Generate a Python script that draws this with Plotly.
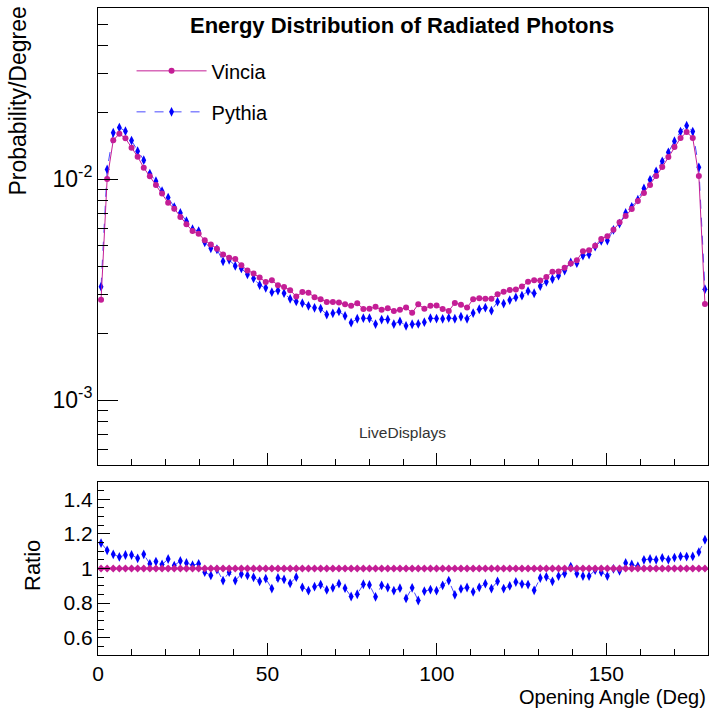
import plotly.graph_objects as go

# Bin centres: 100 bins of 1.8 deg over 0..180
angle_bins = [0.9 + 1.8 * i for i in range(100)]

vincia = [
    0.00284, 0.01000, 0.01497, 0.01603, 0.01528, 0.01385, 0.01262, 0.01125, 0.01029, 0.00940,
    0.00861, 0.00781, 0.00734, 0.00673, 0.00624, 0.00582, 0.00566, 0.00528, 0.00506, 0.00484,
    0.00456, 0.00440, 0.00435, 0.00407, 0.00386, 0.00374, 0.00358, 0.00342, 0.00348, 0.00331,
    0.00325, 0.00314, 0.00294, 0.00308, 0.00306, 0.00292, 0.00286, 0.00278, 0.00278, 0.00276,
    0.00271, 0.00267, 0.00274, 0.00258, 0.00259, 0.00264, 0.00256, 0.00260, 0.00253, 0.00256,
    0.00262, 0.00248, 0.00271, 0.00259, 0.00267, 0.00268, 0.00258, 0.00253, 0.00275, 0.00270,
    0.00262, 0.00286, 0.00289, 0.00287, 0.00287, 0.00301, 0.00309, 0.00315, 0.00316, 0.00326,
    0.00343, 0.00348, 0.00347, 0.00360, 0.00381, 0.00382, 0.00397, 0.00415, 0.00429, 0.00471,
    0.00476, 0.00499, 0.00536, 0.00551, 0.00590, 0.00637, 0.00680, 0.00732, 0.00796, 0.00864,
    0.00940, 0.01032, 0.01133, 0.01257, 0.01396, 0.01533, 0.01632, 0.01533, 0.01032, 0.00272,
]

ratio_pythia_vincia = [
    1.147, 1.105, 1.082, 1.067, 1.078, 1.078, 1.059, 1.082, 1.027, 1.040,
    1.023, 1.055, 1.017, 1.044, 1.032, 1.019, 1.027, 0.979, 0.960, 0.994,
    0.930, 0.979, 0.930, 0.968, 0.960, 0.949, 0.926, 0.941, 0.884, 0.945,
    0.937, 0.914, 0.950, 0.891, 0.872, 0.895, 0.907, 0.876, 0.888, 0.912,
    0.886, 0.838, 0.851, 0.909, 0.905, 0.836, 0.903, 0.890, 0.872, 0.886,
    0.827, 0.888, 0.815, 0.869, 0.878, 0.872, 0.903, 0.930, 0.848, 0.882,
    0.890, 0.865, 0.891, 0.912, 0.884, 0.926, 0.884, 0.899, 0.922, 0.910,
    0.907, 0.874, 0.945, 0.952, 0.926, 0.956, 0.971, 1.011, 0.970, 0.956,
    0.956, 0.990, 0.979, 0.956, 0.998, 0.987, 1.032, 1.023, 1.013, 1.050,
    1.055, 1.050, 1.061, 1.051, 1.063, 1.070, 1.069, 1.070, 1.095, 1.166,
]

pythia = [v * r for v, r in zip(vincia, ratio_pythia_vincia)]
ratio_vincia = [v / v for v in vincia]

MAG = "#c41e96"
BLUE = "#0000ff"
BLUE_LINE = "#4a4aff"
FONT = "Liberation Sans, Arial, sans-serif"

fig = go.Figure()

# top panel
fig.add_trace(go.Scatter(
    x=angle_bins, y=pythia, name="Pythia", mode="lines+markers",
    line=dict(color=BLUE_LINE, width=1, dash="dash"),
    marker=dict(symbol="diamond-tall", size=7, color=BLUE),
    xaxis="x2", yaxis="y2", legendgroup="p", legendrank=2,
))
fig.add_trace(go.Scatter(
    x=angle_bins, y=vincia, name="Vincia", mode="lines+markers",
    line=dict(color=MAG, width=1),
    marker=dict(symbol="circle", size=6, color=MAG),
    xaxis="x2", yaxis="y2", legendgroup="v", legendrank=1,
))

# ratio panel
fig.add_trace(go.Scatter(
    x=angle_bins, y=ratio_pythia_vincia, mode="lines+markers", showlegend=False,
    line=dict(color=BLUE_LINE, width=1, dash="dash"),
    marker=dict(symbol="diamond-tall", size=7, color=BLUE),
    xaxis="x", yaxis="y",
))
fig.add_trace(go.Scatter(
    x=angle_bins, y=ratio_vincia, mode="lines+markers", showlegend=False,
    line=dict(color=MAG, width=1.5),
    marker=dict(symbol="diamond", size=6, color=MAG),
    xaxis="x", yaxis="y",
))

axis_common = dict(showline=True, linecolor="black", linewidth=1, mirror=True,
                   showgrid=False, zeroline=False, ticks="inside", tickcolor="black")

fig.update_layout(
    width=710, height=713,
    margin=dict(l=98, r=2, t=8, b=58),
    paper_bgcolor="white", plot_bgcolor="white",
    font=dict(family=FONT, color="black", size=21),
    xaxis=dict(**axis_common, range=[0, 180], dtick=50, ticklen=12,
               minor=dict(dtick=10, ticklen=6, ticks="inside", tickcolor="black"),
               anchor="y", tickfont=dict(size=21)),
    yaxis=dict(**axis_common, domain=[0, 0.2674], range=[0.5, 1.5],
               tickvals=[0.6, 0.8, 1.0, 1.2, 1.4], ticktext=["0.6", "0.8", "1", "1.2", "1.4"],
               ticklen=12,
               minor=dict(dtick=0.05, ticklen=6, ticks="inside", tickcolor="black"),
               anchor="x", tickfont=dict(size=21)),
    xaxis2=dict(**axis_common, range=[0, 180], dtick=50, ticklen=12, showticklabels=False,
                minor=dict(dtick=10, ticklen=6, ticks="inside", tickcolor="black"),
                anchor="y2", matches="x"),
    yaxis2=dict(**axis_common, type="log", domain=[0.2937, 1.0], range=[-3.294, -1.226],
                tickvals=[0.001, 0.01], ticktext=["10<sup>-3</sup>", "10<sup>-2</sup>"],
                ticklen=20,
                minor=dict(tickvals=[0.0006, 0.0007, 0.0008, 0.0009, 0.002, 0.003, 0.004,
                                     0.005, 0.006, 0.007, 0.008, 0.009, 0.02, 0.03, 0.04, 0.05],
                           ticklen=10, ticks="inside", tickcolor="black"),
                anchor="x2", tickfont=dict(size=23)),
    legend=dict(x=0.055, y=0.933, xanchor="left", yanchor="top",
                font=dict(size=20, family=FONT), bgcolor="rgba(0,0,0,0)",
                tracegroupgap=12, traceorder="grouped", itemwidth=70),
    showlegend=True,
)

fig.add_annotation(text="<b>Energy Distribution of Radiated Photons</b>", xref="paper", yref="paper",
                   x=(402 - 98) / 610, y=1 - 17 / 647, xanchor="center", yanchor="middle",
                   showarrow=False, font=dict(size=22, family=FONT))
fig.add_annotation(text="LiveDisplays", xref="paper", yref="paper",
                   x=(402 - 98) / 610, y=(655 - 433) / 647, xanchor="center", yanchor="middle",
                   showarrow=False, font=dict(size=15.5, family=FONT, color="#333333"))
fig.add_annotation(text="Probability/Degree", xref="paper", yref="paper",
                   x=(18 - 98) / 610, y=1 + 3 / 647, xanchor="center", yanchor="top",
                   textangle=-90, showarrow=False, font=dict(size=23, family=FONT))
fig.add_annotation(text="Ratio", xref="paper", yref="paper",
                   x=(32 - 98) / 610, y=(655 - 566) / 647, xanchor="center", yanchor="middle",
                   textangle=-90, showarrow=False, font=dict(size=22, family=FONT))
fig.add_annotation(text="Opening Angle (Deg)", xref="paper", yref="paper",
                   x=1.0, y=-(697 - 655) / 647, xanchor="right", yanchor="middle",
                   showarrow=False, font=dict(size=20, family=FONT))

fig.write_html("out.html", config={"displayModeBar": False},
               post_script="document.body.style.margin='0';document.body.style.overflow='hidden';")
